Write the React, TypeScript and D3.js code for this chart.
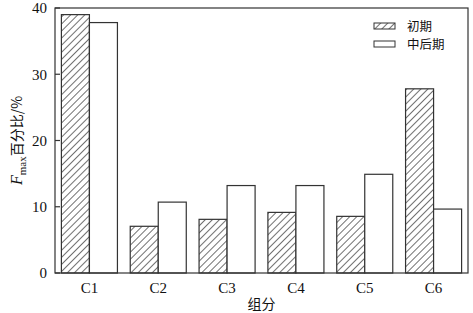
import React from "react";
import * as d3 from "d3";

const categories = ["C1", "C2", "C3", "C4", "C5", "C6"];
const earlyValues = [39.0, 7.05, 8.1, 9.15, 8.55, 27.8];
const laterValues = [37.8, 10.7, 13.2, 13.2, 14.9, 9.65];
const seriesNames = ["初期", "中后期"];
const yTicks = [0, 10, 20, 30, 40];

const W = 473, H = 313;
const M = { left: 55, right: 5, top: 8, bottom: 40 };

export default function App() {
  const x = d3.scaleBand<string>().domain(categories).range([M.left, W - M.right]).paddingInner(0.186).paddingOuter(0.093);
  const y = d3.scaleLinear().domain([0, 40]).range([H - M.bottom, M.top]);
  const bw = x.bandwidth() / 2;
  const stroke = "#333";
  const serif = "'Liberation Serif', 'Times New Roman', serif";
  const cjk = "'Noto Sans CJK SC', sans-serif";
  const x0 = M.left, x1 = W - M.right, y0 = H - M.bottom, y1 = M.top;
  return (
    <svg width={W} height={H} style={{ position: "absolute", left: 0, top: 0, background: "#fff" }}>
      <defs>
        <pattern id="hatch" patternUnits="userSpaceOnUse" width={5} height={5} patternTransform="rotate(45)">
          <rect width={5} height={5} fill="#fff" />
          <line x1={0} y1={0} x2={0} y2={5} stroke="#111" strokeWidth={1.2} />
        </pattern>
      </defs>
      <rect x={0} y={0} width={W} height={H} fill="#fff" />
      {categories.map((c, i) => (
        <g key={c}>
          <rect x={x(c)!} y={y(earlyValues[i])} width={bw} height={y(0) - y(earlyValues[i])} fill="url(#hatch)" stroke={stroke} strokeWidth={1.2} />
          <rect x={x(c)! + bw} y={y(laterValues[i])} width={bw} height={y(0) - y(laterValues[i])} fill="#fff" stroke={stroke} strokeWidth={1.2} />
        </g>
      ))}
      <rect x={x0} y={y1} width={x1 - x0} height={y0 - y1} fill="none" stroke={stroke} strokeWidth={1.2} />
      {yTicks.map(t => (
        <g key={t}>
          <line x1={x0} x2={x0 + 5} y1={y(t)} y2={y(t)} stroke={stroke} strokeWidth={1.2} />
          <text x={x0 - 8} y={y(t)} dy="0.35em" textAnchor="end" fontFamily={serif} fontSize={15} fill="#111">{t}</text>
        </g>
      ))}
      {categories.map(c => (
        <text key={c} x={x(c)! + x.bandwidth() / 2} y={y0 + 20} textAnchor="middle" fontFamily={serif} fontSize={15} fill="#111">{c}</text>
      ))}
      <text x={(x0 + x1) / 2} y={y0 + 36} textAnchor="middle" fontFamily={cjk} fontSize={14} fill="#111">组分</text>
      <text transform={`translate(${22},${(y0 + y1) / 2}) rotate(-90)`} textAnchor="middle" fontSize={15} fill="#111">
        <tspan fontFamily={serif} fontStyle="italic" fontSize={16}>F</tspan>
        <tspan fontFamily={serif} fontSize={11} dy={4}>max</tspan>
        <tspan fontFamily={cjk} fontSize={14} dy={-4}>百分比/%</tspan>
      </text>
      <g>
        <rect x={374} y={23} width={21} height={6} fill="url(#hatch)" stroke={stroke} strokeWidth={1} />
        <text x={407} y={26.5} dy="0.35em" fontFamily={cjk} fontSize={12.5} fill="#111">{seriesNames[0]}</text>
        <rect x={374} y={41} width={21} height={6} fill="#fff" stroke={stroke} strokeWidth={1} />
        <text x={407} y={44.5} dy="0.35em" fontFamily={cjk} fontSize={12.5} fill="#111">{seriesNames[1]}</text>
      </g>
    </svg>
  );
}
